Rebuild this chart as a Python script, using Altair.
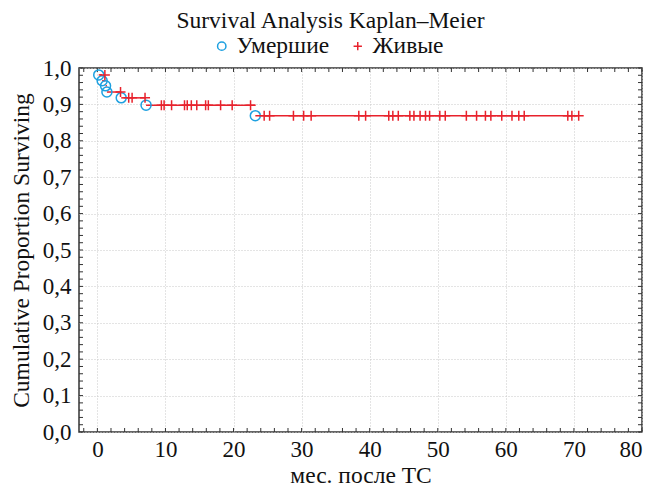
import altair as alt
import pandas as pd

# Deaths (circles): time in months, cumulative survival
death_t = [0.2, 0.7, 1.2, 1.4, 3.5, 7.15, 23.2]
death_s = [0.981, 0.965, 0.951, 0.934, 0.918, 0.898, 0.869]

# Censored (plus marks)
cens_t = [1.1, 3.4, 4.6, 5.1, 7.0,
          9.4, 9.8, 10.9, 12.8, 13.2, 13.8, 14.6, 15.9, 16.3, 18.1, 19.8, 22.5,
          24.5, 25.3, 28.8, 30.3, 31.4, 38.4, 39.4, 42.8, 43.4, 44.2, 45.9, 46.5,
          47.4, 48.2, 48.8, 50.3, 51.1, 54.2, 55.7, 57.0, 57.8, 59.4, 60.9, 61.9,
          62.7, 69.1, 69.7, 70.7]
cens_s = [0.981, 0.934, 0.918, 0.918, 0.918] + [0.898] * 12 + [0.869] * 28

# Survival curve: horizontal segments (start, end, level)
seg_t0 = [0.2, 0.7, 1.2, 1.4, 3.5, 7.15, 23.2]
seg_t1 = [0.7, 1.2, 1.4, 3.5, 7.15, 23.2, 70.7]
seg_s = [0.981, 0.965, 0.951, 0.934, 0.918, 0.898, 0.869]

x_major = [0, 10, 20, 30, 40, 50, 60, 70, 80]
y_major = [0.0, 0.1, 0.2, 0.3, 0.4, 0.5, 0.6, 0.7, 0.8, 0.9, 1.0]
x_minor = [v for v in range(-2, 81, 2)]
y_minor = [round(v * 0.02, 2) for v in range(0, 51)]

labels = ["Умершие", "Живые"]
BLUE = "#1ea0e0"
RED = "#e8222c"
FONT = "Liberation Serif"

seg_df = pd.DataFrame({"t": seg_t0, "t2": seg_t1, "s": seg_s})
pts_df = pd.DataFrame({
    "t": death_t + cens_t,
    "s": death_s + cens_s,
    "type": [labels[0]] * len(death_t) + [labels[1]] * len(cens_t),
})
xt_df = pd.DataFrame({"t": x_minor})
yt_df = pd.DataFrame({"s": y_minor})

xenc = alt.X("t:Q", scale=alt.Scale(domain=[-2.7, 80], nice=False, zero=False),
             axis=alt.Axis(values=x_major, title="мес. после ТС", ticks=False,
                           domain=False, labelPadding=6, titlePadding=2,
                           grid=True, gridDash=[1, 2], gridColor="#c8c8c8"))
yenc = alt.Y("s:Q", scale=alt.Scale(domain=[0, 1], nice=False),
             axis=alt.Axis(values=y_major, title="Cumulative Proportion Surviving",
                           ticks=False, domain=False, labelPadding=8, titlePadding=9,
                           labelExpr="replace(format(datum.value, '.1f'), '.', ',')",
                           grid=True, gridDash=[1, 2], gridColor="#c8c8c8"))

tick_bottom = alt.Chart(xt_df).mark_rule(color="#333", strokeWidth=1).encode(
    x=xenc, y=alt.value(364), y2=alt.value(360))
tick_top = alt.Chart(xt_df).mark_rule(color="#333", strokeWidth=1).encode(
    x=xenc, y=alt.value(0), y2=alt.value(4))
tick_left = alt.Chart(yt_df).mark_rule(color="#333", strokeWidth=1).encode(
    y=yenc, x=alt.value(0), x2=alt.value(4))
tick_right = alt.Chart(yt_df).mark_rule(color="#333", strokeWidth=1).encode(
    y=yenc, x=alt.value(563), x2=alt.value(559))

line = alt.Chart(seg_df).mark_rule(color=RED, strokeWidth=1.5).encode(
    x=xenc, x2="t2:Q", y=yenc)

points = alt.Chart(pts_df).mark_point(filled=False, strokeWidth=1.5, size=100, opacity=1).encode(
    x=xenc, y=yenc,
    color=alt.Color("type:N", scale=alt.Scale(domain=labels, range=[BLUE, RED]),
                    legend=alt.Legend(title=None, orient="none", direction="horizontal",
                                      legendX=131, legendY=-34, labelFontSize=23.5,
                                      labelFont=FONT, labelColor="#111",
                                      symbolSize=70, symbolStrokeWidth=1.5,
                                      columnPadding=16, labelOffset=3)),
    shape=alt.Shape("type:N", scale=alt.Scale(domain=labels,
                                              range=["circle", "M-1,0H1M0,-1V1"])),
)

chart = alt.layer(tick_bottom, tick_top, tick_left, tick_right, line, points).properties(
    width=563, height=364,
    background="white",
    title=alt.Title("Survival Analysis Kaplan–Meier", font=FONT, fontSize=23.5,
                    fontWeight="normal", color="#111", anchor="middle", dx=-30, offset=2),
    padding={"left": 71, "top": 60, "right": 5, "bottom": 56},
    autosize=alt.AutoSizeParams(type="none"),
).configure_view(stroke="#333", strokeWidth=1.5).configure_axis(
    labelFont=FONT, labelFontSize=23, labelColor="#111",
    titleFont=FONT, titleFontSize=23.5, titleFontWeight="normal", titleColor="#111",
)

chart.save("out.html", embed_options={"renderer": "svg", "actions": False})
